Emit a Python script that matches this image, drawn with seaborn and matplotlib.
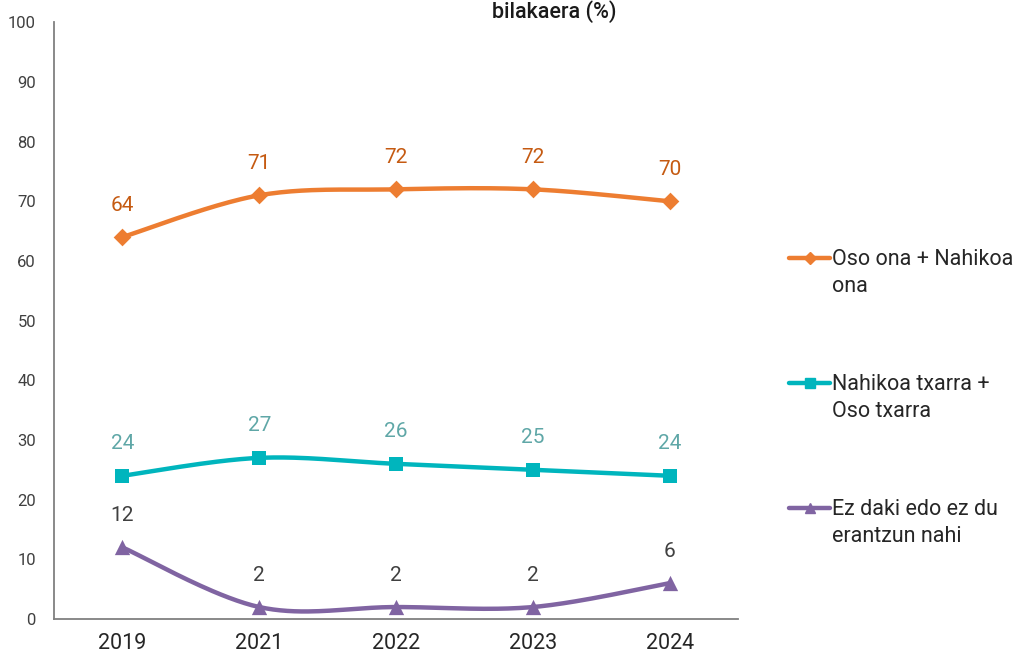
import numpy as np
import pandas as pd
import matplotlib.pyplot as plt
import seaborn as sns
from matplotlib.lines import Line2D

years = ["2019", "2021", "2022", "2023", "2024"]
good = [64, 71, 72, 72, 70]
bad = [24, 27, 26, 25, 24]
no_answer = [12, 2, 2, 2, 6]

series_names = ["Oso ona + Nahikoa\nona", "Nahikoa txarra +\nOso txarra", "Ez daki edo ez du\nerantzun nahi"]
line_colors = ["#ED7D31", "#00B5BD", "#8064A2"]
label_colors = ["#C55A11", "#5FA7A7", "#404040"]
markers = ["D", "s", "^"]
marker_sizes = [9, 10, 11]


def smooth_curve(xs, ys, n=40):
    # Catmull-Rom smoothing like Excel's "smoothed line"
    xs = np.asarray(xs, float)
    ys = np.asarray(ys, float)
    px = np.concatenate([[xs[0]], xs, [xs[-1]]])
    py = np.concatenate([[ys[0]], ys, [ys[-1]]])
    out_x, out_y = [], []
    t = np.linspace(0, 1, n)
    for i in range(1, len(px) - 2):
        for p, out in ((px, out_x), (py, out_y)):
            p0, p1, p2, p3 = p[i - 1], p[i], p[i + 1], p[i + 2]
            seg = 0.5 * ((2 * p1) + (-p0 + p2) * t + (2 * p0 - 5 * p1 + 4 * p2 - p3) * t ** 2
                         + (-p0 + 3 * p1 - 3 * p2 + p3) * t ** 3)
            out.extend(seg)
    return np.array(out_x), np.array(out_y)


sns.set_style("white")
plt.rcParams['font.family'] = ['Roboto', 'DejaVu Sans']

fig = plt.figure(figsize=(10.25, 6.55), dpi=100)
ax = fig.add_axes([0.0527, 0.055, 0.6673, 0.911])

pos = np.arange(len(years))
for vals, color, lcolor, mk, ms in zip([good, bad, no_answer], line_colors, label_colors, markers, marker_sizes):
    cx, cy = smooth_curve(pos, vals)
    curve = pd.DataFrame({"x": cx, "y": cy})
    sns.lineplot(data=curve, x="x", y="y", ax=ax, color=color, linewidth=3.2, sort=False,
                 estimator=None)
    pts = pd.DataFrame({"x": pos, "y": vals})
    sns.scatterplot(data=pts, x="x", y="y", ax=ax, color=color, marker=mk, s=ms ** 2,
                    edgecolor=color, linewidth=0, zorder=3)
    for x, v in zip(pos, vals):
        ax.annotate(str(v), (x, v), xytext=(0, 23), textcoords="offset points",
                    ha="center", va="center", fontsize=15, color=lcolor)

ax.set_xlim(-0.5, len(years) - 0.5)
ax.set_ylim(0, 100)
ax.set_yticks(range(0, 101, 10))
ax.set_xticks(pos)
ax.set_xticklabels(years)
ax.set_xticks(np.arange(-0.5, len(years), 1.0), minor=True)
ax.tick_params(axis="x", which="major", length=0, labelsize=15.5, labelcolor="#262626", pad=10)
ax.tick_params(axis="x", which="minor", length=6, width=1.2, color="#808080", direction="out")
ax.tick_params(axis="y", length=5, width=1.2, color="#808080", direction="out",
               labelsize=12, labelcolor="#404040", pad=8)
ax.set_xlabel("")
ax.set_ylabel("")
for side in ["top", "right"]:
    ax.spines[side].set_visible(False)
for side in ["left", "bottom"]:
    ax.spines[side].set_color("#808080")
    ax.spines[side].set_linewidth(1.3)

fig.text(0.541, 1 - 18 / 655, "bilakaera (%)", ha="center", va="baseline",
         fontsize=15.5, fontweight="medium", color="#1a1a1a")

# manual legend, handle aligned with first text line
leg_y = [258, 383, 508]
for name, color, mk, ms, y in zip(series_names, line_colors, markers, marker_sizes, leg_y):
    fy = 1 - y / 655
    fig.add_artist(Line2D([789 / 1025, 830 / 1025], [fy, fy], color=color, linewidth=3.2,
                          transform=fig.transFigure))
    fig.add_artist(Line2D([809.5 / 1025], [fy], color=color, marker=mk, markersize=ms * 0.7,
                          linewidth=0, transform=fig.transFigure))
    fig.text(832 / 1025, fy + 9 / 655, name, ha="left", va="top", fontsize=15.5,
             color="#262626", linespacing=1.4)

plt.savefig("out.png", dpi=100)
plt.close()
